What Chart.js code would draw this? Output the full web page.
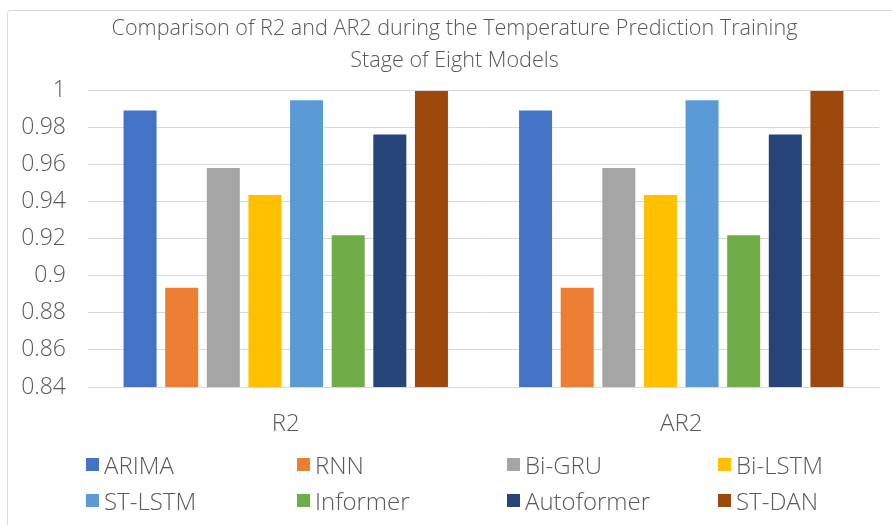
<!DOCTYPE html>
<html>
<head>
<meta charset="utf-8">
<script src="https://cdn.jsdelivr.net/npm/chart.js@4/dist/chart.umd.min.js"></script>
<style>
  html, body { margin: 0; padding: 0; background: #fff; }
  #wrap { position: relative; width: 892px; height: 525px; overflow: hidden; }
  #frame { position: absolute; left: 7px; top: 10px; width: 900px; height: 540px;
           border: 1px solid #d9d9d9; border-radius: 3px; box-sizing: border-box; }
  canvas { position: absolute; left: 0; top: 0; }
  #legend { position: absolute; left: 0; top: 0; width: 892px; height: 525px; pointer-events: none;
            font-family: "Open Sans", "Noto Sans", sans-serif; font-weight: 300;
            font-size: 24px; color: #595959; }
  .item { position: absolute; display: flex; align-items: center; white-space: nowrap; height: 30px; }
  .box { width: 13px; height: 13px; margin-right: 5px; flex: none; }
</style>
</head>
<body>
<div id="wrap">
  <div id="frame"></div>
  <canvas id="c" width="892" height="525"></canvas>
  <div id="legend"></div>
</div>
<script>
// Goodness-of-fit metrics for each temperature model
const categories = ['R2', 'AR2'];
const models = ['ARIMA', 'RNN', 'Bi-GRU', 'Bi-LSTM', 'ST-LSTM', 'Informer', 'Autoformer', 'ST-DAN'];
const r2Values  = [0.989, 0.8935, 0.958, 0.9435, 0.9945, 0.9217, 0.976, 0.9995];
const ar2Values = [0.989, 0.8935, 0.958, 0.9435, 0.9945, 0.9217, 0.976, 0.9995];
const yTickValues = [0.84, 0.86, 0.88, 0.9, 0.92, 0.94, 0.96, 0.98, 1];
const yTickLabels = ['0.84', '0.86', '0.88', '0.9', '0.92', '0.94', '0.96', '0.98', '1'];
const titleLines = ['Comparison of R2 and AR2 during the Temperature Prediction Training',
                    'Stage of Eight Models'];

const colors = ['#4472C4', '#ED7D31', '#A5A5A5', '#FFC000', '#5B9BD5', '#70AD47', '#264478', '#9E480E'];
const FONT = '"Open Sans", "Noto Sans", sans-serif';
const TEXT = '#595959';

const datasets = models.map((name, i) => ({
  label: name,
  data: [r2Values[i], ar2Values[i]],
  backgroundColor: colors[i],
  borderWidth: 0,
  categoryPercentage: 0.842,
  barPercentage: 0.793
}));

// Centre the title over the framed panel rather than the whole canvas
const titleInset = {
  id: 'titleInset',
  afterLayout(chart) {
    if (chart.titleBlock) chart.titleBlock.left += 30;
  }
};

new Chart(document.getElementById('c'), {
  type: 'bar',
  data: { labels: categories, datasets },
  plugins: [titleInset],
  options: {
    responsive: false,
    animation: false,
    layout: { padding: { left: 0, right: 13, top: 13, bottom: 0 } },
    plugins: {
      legend: { display: false },
      tooltip: { enabled: false },
      title: {
        display: true,
        text: titleLines,
        color: TEXT,
        font: { family: FONT, size: 21.6, weight: 300, lineHeight: '32px' },
        padding: { top: 0, bottom: 13 }
      }
    },
    scales: {
      x: {
        grid: { display: false },
        border: { display: false },
        ticks: { color: TEXT, font: { family: FONT, size: 24, weight: 300 }, padding: 15 },
        afterFit(scale) { scale.height = 138; }
      },
      y: {
        min: 0.84,
        max: 1,
        afterBuildTicks(scale) { scale.ticks = yTickValues.map(v => ({ value: v })); },
        grid: { color: '#d9d9d9', lineWidth: 1, drawTicks: false },
        border: { display: false },
        ticks: {
          color: TEXT,
          font: { family: FONT, size: 23, weight: 300 },
          padding: 22,
          callback(value) {
            const idx = yTickValues.findIndex(v => Math.abs(v - value) < 1e-9);
            return idx >= 0 ? yTickLabels[idx] : '';
          }
        },
        afterFit(scale) { scale.width = 88; }
      }
    }
  }
});

// Four-column legend below the plot
const legendPos = [[86, 449], [297, 449], [507, 449], [718, 449],
                   [86, 485], [297, 485], [507, 485], [718, 485]];
const legendEl = document.getElementById('legend');
models.forEach((name, i) => {
  const item = document.createElement('div');
  item.className = 'item';
  item.style.left = legendPos[i][0] + 'px';
  item.style.top = legendPos[i][1] + 'px';
  const box = document.createElement('span');
  box.className = 'box';
  box.style.background = colors[i];
  const txt = document.createElement('span');
  txt.textContent = name;
  item.appendChild(box);
  item.appendChild(txt);
  legendEl.appendChild(item);
});
</script>
</body>
</html>
